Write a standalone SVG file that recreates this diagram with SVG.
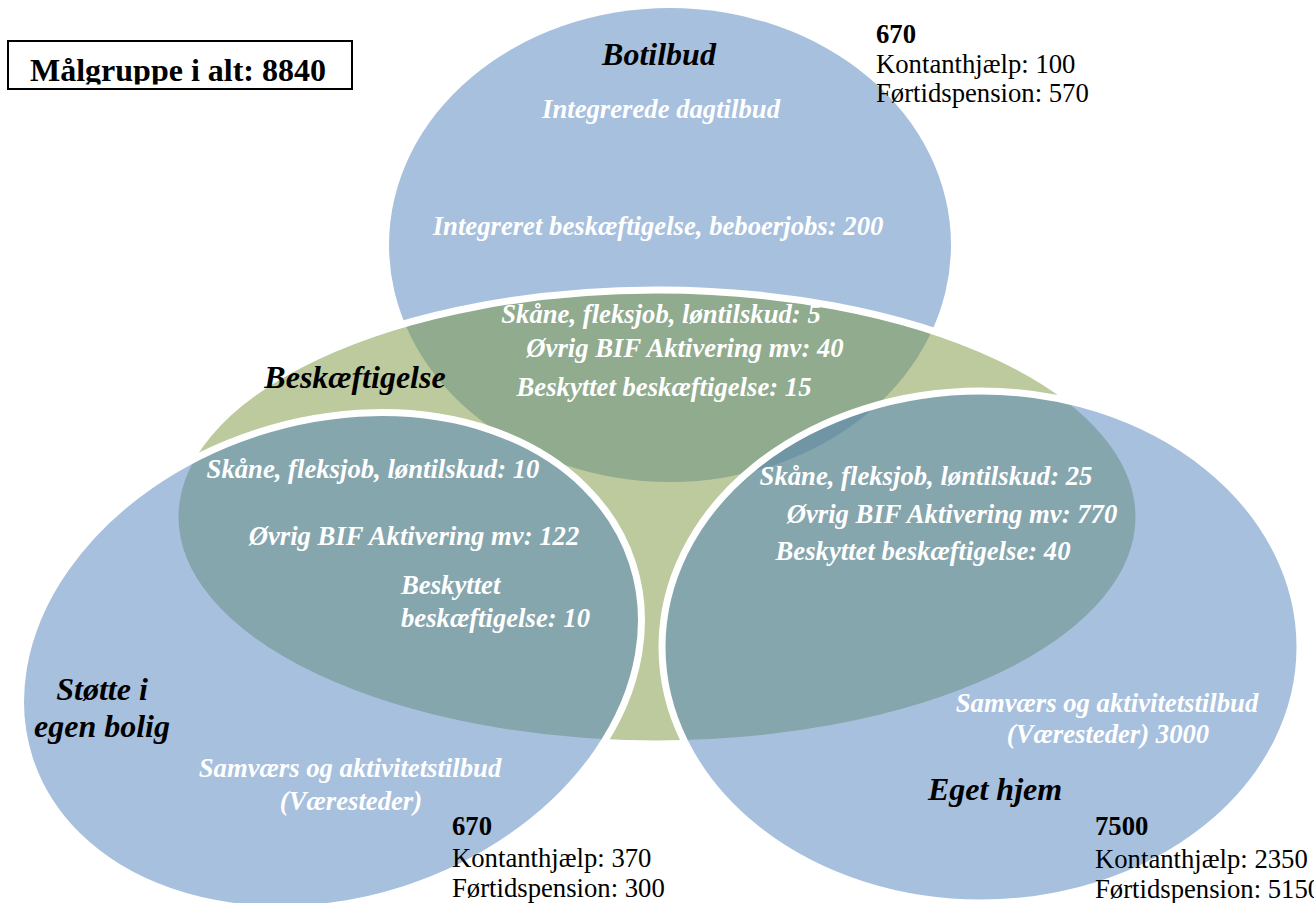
<svg xmlns="http://www.w3.org/2000/svg" width="1314" height="903" viewBox="0 0 1314 903">
<defs>
<style>
.blue{fill:#4F81BD;fill-opacity:.5}
.green{fill:#79953D;fill-opacity:.5;stroke:#fff;stroke-width:7}
.ring{stroke:#fff;stroke-width:7}
text{font-family:"Liberation Serif","Times New Roman",serif}
.h{font-size:32px;font-weight:bold;font-style:italic;fill:#000}
.w{font-size:26.7px;font-weight:bold;font-style:italic;fill:#fff}
.n{font-size:26.7px;fill:#000}
.nb{font-size:26.7px;font-weight:bold;fill:#000}
.c{text-anchor:middle}
</style>
<clipPath id="boxclip"><rect x="9" y="42" width="342" height="42.5"/></clipPath>
</defs>
<rect width="1314" height="903" fill="#fff"/>
<g id="total">
<rect x="8" y="41" width="344" height="48" fill="#fff" stroke="#000" stroke-width="2"/>
<text class="nb" style="font-size:32px" x="30" y="81" clip-path="url(#boxclip)">Målgruppe i alt: 8840</text>
</g>
<g id="botilbud">
<ellipse class="blue" cx="670" cy="245" rx="281" ry="237"/>
<text class="h c" x="659" y="65">Botilbud</text>
<text class="w c" x="661" y="118">Integrerede dagtilbud</text>
<text class="w c" x="658" y="235">Integreret beskæftigelse, beboerjobs: 200</text>
<text class="nb" x="876" y="43">670</text>
<text class="n" x="876" y="73">Kontanthjælp: 100</text>
<text class="n" x="876" y="102">Førtidspension: 570</text>
</g>
<g id="beskaeftigelse">
<ellipse class="green" cx="657" cy="517" rx="482" ry="227"/>
<text class="h c" x="355" y="388">Beskæftigelse</text>
</g>
<g id="stotte-i-egen-bolig">
<ellipse class="blue ring" cx="331" cy="661" rx="317" ry="240" transform="rotate(-18 331 661)"/>
<text class="h c" x="102" y="700">Støtte i</text>
<text class="h c" x="102" y="737">egen bolig</text>
<text class="w c" x="350" y="777">Samværs og aktivitetstilbud</text>
<text class="w c" x="351" y="810">(Væresteder)</text>
<text class="nb" x="452" y="835">670</text>
<text class="n" x="452" y="867">Kontanthjælp: 370</text>
<text class="n" x="452" y="897">Førtidspension: 300</text>
</g>
<g id="eget-hjem">
<ellipse class="blue ring" cx="981" cy="647" rx="319" ry="256"/>
<text class="w c" x="1107" y="712">Samværs og aktivitetstilbud</text>
<text class="w c" x="1108" y="743">(Væresteder) 3000</text>
<text class="h c" x="995" y="800">Eget hjem</text>
<text class="nb" x="1095" y="835">7500</text>
<text class="n" x="1095" y="868">Kontanthjælp: 2350</text>
<text class="n" x="1095" y="898">Førtidspension: 5150</text>
</g>
<g id="overlap-botilbud-beskaeftigelse">
<text class="w c" x="661" y="323">Skåne, fleksjob, løntilskud: 5</text>
<text class="w c" x="685" y="357">Øvrig BIF Aktivering mv: 40</text>
<text class="w c" x="664" y="396">Beskyttet beskæftigelse: 15</text>
</g>
<g id="overlap-stotte-beskaeftigelse">
<text class="w c" x="373" y="478">Skåne, fleksjob, løntilskud: 10</text>
<text class="w c" x="414" y="545">Øvrig BIF Aktivering mv: 122</text>
<text class="w" x="401" y="594">Beskyttet</text>
<text class="w" x="401" y="627">beskæftigelse: 10</text>
</g>
<g id="overlap-egethjem-beskaeftigelse">
<text class="w c" x="926" y="485">Skåne, fleksjob, løntilskud: 25</text>
<text class="w c" x="952" y="523">Øvrig BIF Aktivering mv: 770</text>
<text class="w c" x="923" y="560">Beskyttet beskæftigelse: 40</text>
</g>
<g id="connectors"/>
</svg>
